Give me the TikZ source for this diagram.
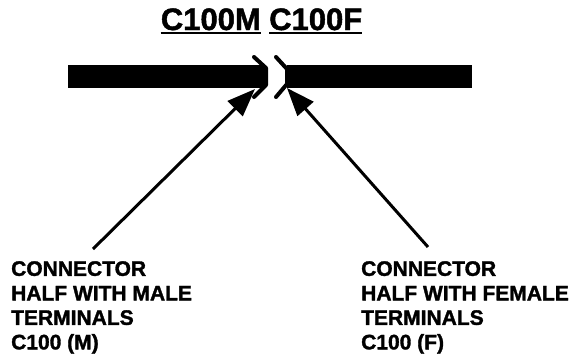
\documentclass[tikz,border=0pt]{standalone}
\usepackage{fontspec}
\setmainfont{Liberation Sans}[BoldFeatures={FakeBold=1.5}]
\usetikzlibrary{arrows.meta, positioning}

\begin{document}
\begin{tikzpicture}[
    x=1pt, y=-1pt,
    title/.style={inner sep=0pt, font=\fontsize{31}{36}\selectfont\bfseries},
    lbl/.style={inner sep=0pt, align=left, anchor=north west,
                font=\fontsize{21}{24.5}\selectfont\bfseries},
    uline/.style={line width=2pt},
    bar/.style={fill=black, draw=none},
    half/.style={line width=4pt, line cap=round, line join=round},
    arr/.style={-{Triangle[length=28pt, width=21pt]}, line width=3pt}]
  \useasboundingbox (0,0) rectangle (572,354);

  % headings
  \node[title, anchor=base east] (tm) at (261,30) {C100M};
  \node[title, anchor=base west] (tf) at (269,30) {C100F};
  \draw[uline] ([yshift=-3pt]tm.base west) -- ([yshift=-3pt]tm.base east);
  \draw[uline] ([yshift=-3pt]tf.base west) -- ([yshift=-3pt]tf.base east);

  % wire halves
  \fill[bar] (68,65) rectangle (266,88);
  \fill[bar] (287,65) rectangle (472,88);
  \draw[half] (254,57) -- (266,68) -- (266,85) -- (254,97);
  \draw[half] (276,57) -- (287,69) -- (287,84) -- (276,97);

  \coordinate (mtip) at (255,89);
  \coordinate (ftip) at (287,88);

  % labels
  \node[lbl] (male) at (11,261) {CONNECTOR\\HALF WITH MALE\\TERMINALS\\C100 (M)};
  \node[lbl] (female) at (361,261) {CONNECTOR\\HALF WITH FEMALE\\TERMINALS\\C100 (F)};

  \coordinate (mfoot) at (93,249);
  \coordinate (ffoot) at (428,247);
  \draw[arr] (mfoot) -- (mtip);
  \draw[arr] (ffoot) -- (ftip);
\end{tikzpicture}
\end{document}
